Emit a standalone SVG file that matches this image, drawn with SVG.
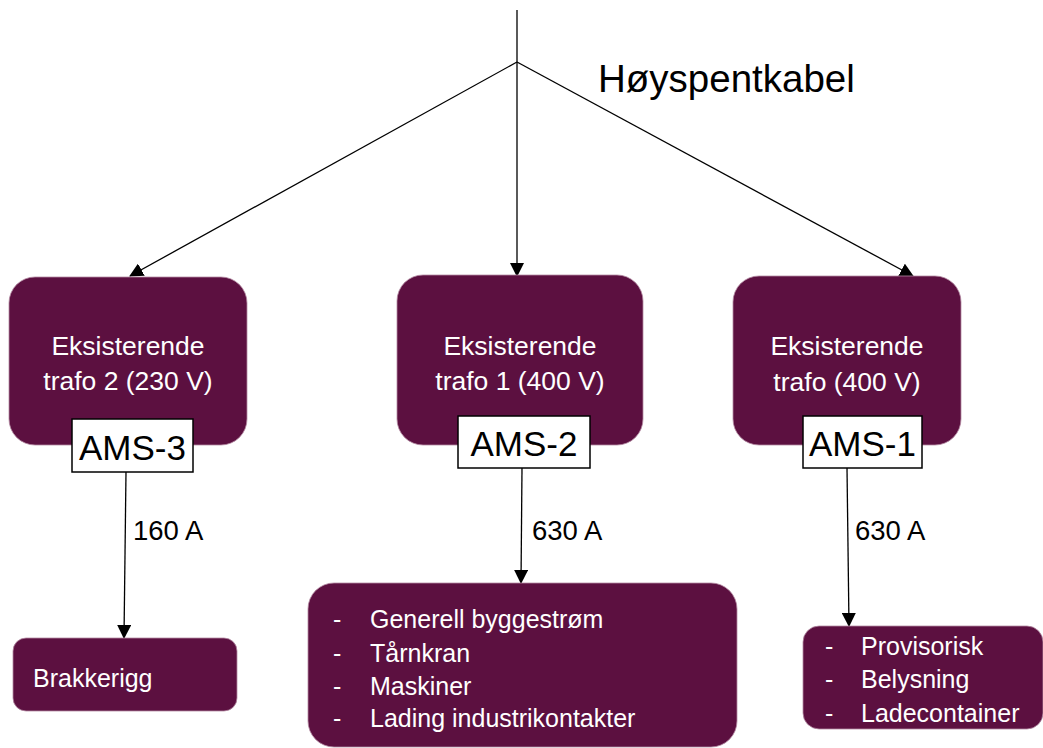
<svg xmlns="http://www.w3.org/2000/svg" width="1043" height="748" viewBox="0 0 1043 748">
<style>
.box{fill:#5C1040;stroke:#B48AA2;stroke-width:0.8}
.wt{fill:#FFFFFF;font-family:"Liberation Sans",Arial,sans-serif;font-size:26.5px}
.wl{fill:#FFFFFF;font-family:"Liberation Sans",Arial,sans-serif;font-size:25px}
.bt{fill:#000000;font-family:"Liberation Sans",Arial,sans-serif}
.ams{fill:#FFFFFF;stroke:#000000;stroke-width:1.5}
.ln{stroke:#000000;stroke-width:1.3;fill:none}
</style>
<defs>
<marker id="ah" markerWidth="14" markerHeight="14" refX="13" refY="7" orient="auto" markerUnits="userSpaceOnUse">
<path d="M0,0 L14,7 L0,14 Z" fill="#000000"/>
</marker>
</defs>
<g id="connectors">
<line class="ln" x1="517" y1="10" x2="517" y2="62"/>
<line class="ln" x1="517" y1="62" x2="130" y2="276" marker-end="url(#ah)"/>
<line class="ln" x1="517" y1="62" x2="517" y2="276" marker-end="url(#ah)"/>
<line class="ln" x1="517" y1="62" x2="913" y2="276" marker-end="url(#ah)"/>
<line class="ln" x1="126" y1="472" x2="124" y2="638" marker-end="url(#ah)"/>
<line class="ln" x1="522" y1="468" x2="521" y2="583" marker-end="url(#ah)"/>
<line class="ln" x1="847" y1="468" x2="849" y2="626" marker-end="url(#ah)"/>
<text class="bt" x="133" y="540" font-size="27.5">160 A</text>
<text class="bt" x="532" y="540" font-size="27.5">630 A</text>
<text class="bt" x="855" y="540" font-size="27.5">630 A</text>
</g>
<g id="label-hoyspent">
<text class="bt" x="598" y="92" font-size="38.5">Høyspentkabel</text>
</g>
<g id="trafo2">
<rect class="box" x="9" y="277" width="238" height="168" rx="26"/>
<text class="wt" x="128" y="355" text-anchor="middle">Eksisterende</text>
<text class="wt" x="128" y="390" text-anchor="middle">trafo 2 (230 V)</text>
</g>
<g id="trafo1">
<rect class="box" x="397" y="275" width="246" height="170" rx="26"/>
<text class="wt" x="520" y="355" text-anchor="middle">Eksisterende</text>
<text class="wt" x="520" y="390" text-anchor="middle">trafo 1 (400 V)</text>
</g>
<g id="trafo">
<rect class="box" x="733" y="276" width="228" height="169" rx="26"/>
<text class="wt" x="847" y="355" text-anchor="middle">Eksisterende</text>
<text class="wt" x="847" y="391" text-anchor="middle">trafo (400 V)</text>
</g>
<g id="ams3">
<rect class="ams" x="72" y="419" width="121" height="53"/>
<text class="bt" x="132.5" y="460" font-size="35" text-anchor="middle">AMS-3</text>
</g>
<g id="ams2">
<rect class="ams" x="458" y="416" width="132" height="52"/>
<text class="bt" x="524" y="456" font-size="35" text-anchor="middle">AMS-2</text>
</g>
<g id="ams1">
<rect class="ams" x="803" y="416" width="119" height="52"/>
<text class="bt" x="862.5" y="456" font-size="35" text-anchor="middle">AMS-1</text>
</g>
<g id="brakkerigg">
<rect class="box" x="13" y="638" width="224" height="73" rx="13"/>
<text class="wl" x="33" y="687">Brakkerigg</text>
</g>
<g id="last-ams2">
<rect class="box" x="308" y="583" width="429" height="164" rx="26"/>
<text class="wl"><tspan x="333" y="628">-</tspan><tspan x="370" y="628">Generell byggestrøm</tspan></text>
<text class="wl"><tspan x="333" y="662">-</tspan><tspan x="370" y="662">Tårnkran</tspan></text>
<text class="wl"><tspan x="333" y="695">-</tspan><tspan x="370" y="695">Maskiner</tspan></text>
<text class="wl"><tspan x="333" y="727">-</tspan><tspan x="370" y="727">Lading industrikontakter</tspan></text>
</g>
<g id="last-ams1">
<rect class="box" x="803" y="626" width="240" height="103" rx="16"/>
<text class="wl"><tspan x="825" y="655">-</tspan><tspan x="861" y="655">Provisorisk</tspan></text>
<text class="wl"><tspan x="825" y="688">-</tspan><tspan x="861" y="688">Belysning</tspan></text>
<text class="wl"><tspan x="825" y="722">-</tspan><tspan x="861" y="722">Ladecontainer</tspan></text>
</g>
</svg>
